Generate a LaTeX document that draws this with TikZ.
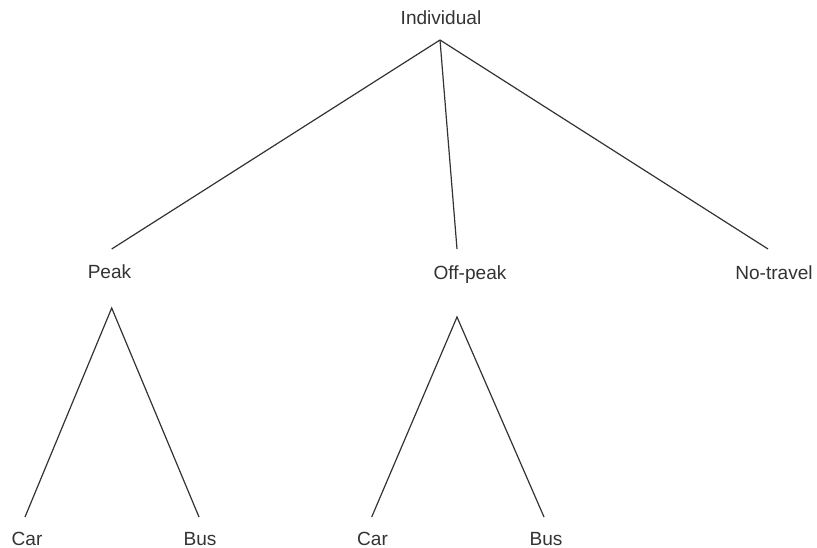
\documentclass[tikz,border=0pt]{standalone}
\usepackage{fontspec}
\setmainfont{Liberation Sans}
\begin{document}
\begin{tikzpicture}[x=0.75pt,y=-0.75pt,
  lbl/.style={anchor=base,inner sep=0pt,text=black!80,font=\fontsize{14.3}{17}\selectfont},
  edge/.style={draw=black!80,line width=0.9pt}]
\useasboundingbox (0,0) rectangle (817,548);
% labels
\node[lbl] (ind) at (441,25) {Individual};
\node[lbl] (peak) at (109.5,279) {Peak};
\node[lbl] (off) at (470,280) {Off-peak};
\node[lbl] (no) at (774,280) {No-travel};
\node[lbl] (car1) at (27,545) {Car};
\node[lbl] (bus1) at (200,545) {Bus};
\node[lbl] (car2) at (372.5,545) {Car};
\node[lbl] (bus2) at (546,545) {Bus};
% connector ends
\coordinate (indB) at (440,40);
\coordinate (peakT) at (111.7,249);
\coordinate (offT) at (457,249);
\coordinate (noT) at (768,249);
\coordinate (peakB) at (111.7,308);
\coordinate (offB) at (457,317);
\coordinate (car1T) at (25,517);
\coordinate (bus1T) at (199,517);
\coordinate (car2T) at (371.7,517);
\coordinate (bus2T) at (544,517);
% connectors
\draw[edge] (indB) -- (peakT);
\draw[edge] (indB) -- (offT);
\draw[edge] (indB) -- (noT);
\draw[edge] (car1T) -- (peakB) -- (bus1T);
\draw[edge] (car2T) -- (offB) -- (bus2T);
\end{tikzpicture}
\end{document}
